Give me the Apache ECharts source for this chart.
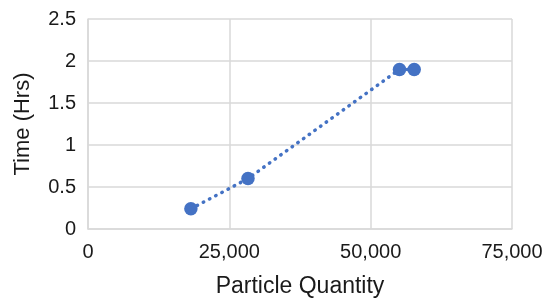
<!DOCTYPE html>
<html>
<head>
<meta charset="utf-8">
<script src="https://cdn.jsdelivr.net/npm/echarts@6/dist/echarts.min.js"></script>
<style>
    html, body { margin: 0; padding: 0; background: #fff; }
    #chart { width: 550px; height: 307px; }
</style>
</head>
<body>
<div id="chart"></div>
<script>
// data
var quantity = [18200, 28300, 55100, 57700]
var hours = [0.24, 0.6, 1.9, 1.9]

var points = []
for (let i = 0; i < quantity.length; i++) {
    points.push([quantity[i], hours[i]])
}

var myChart = echarts.init(document.getElementById('chart'))

var gridColor = '#d9d9d9'
var textColor = '#1a1a1a'
var font = 'Liberation Sans, Arial, sans-serif'

option = {
    animation: false,
    grid: {
        left: 88,
        right: 38,
        top: 19,
        bottom: 78,
        containLabel: false
    },
    xAxis: {
        type: 'value',
        min: 0,
        max: 75000,
        interval: 25000,
        name: 'Particle Quantity',
        nameLocation: 'middle',
        nameGap: 46,
        nameTextStyle: { color: textColor, fontSize: 23, fontFamily: font },
        axisLine: { show: true, lineStyle: { color: gridColor, width: 1.5 } },
        axisTick: { show: false },
        axisLabel: {
            margin: 13,
            color: textColor,
            fontSize: 20,
            fontFamily: font,
            formatter: function (v) { return v.toLocaleString('en-US') }
        },
        splitLine: { show: true, lineStyle: { color: gridColor, width: 1.5 } }
    },
    yAxis: {
        type: 'value',
        min: 0,
        max: 2.5,
        interval: 0.5,
        name: 'Time (Hrs)',
        nameLocation: 'middle',
        nameGap: 54,
        nameTextStyle: { color: textColor, fontSize: 22, fontFamily: font },
        axisLine: { show: true, lineStyle: { color: gridColor, width: 1.5 } },
        axisTick: { show: false },
        axisLabel: {
            margin: 12,
            color: textColor,
            fontSize: 20,
            fontFamily: font
        },
        splitLine: { show: true, lineStyle: { color: gridColor, width: 1.5 } }
    },
    series: [{
        type: 'line',
        data: points,
        symbol: 'circle',
        symbolSize: 13.5,
        itemStyle: { color: '#4472C4' },
        lineStyle: {
            color: '#4472C4',
            width: 3.5,
            type: [0.5, 6.5],
            cap: 'round'
        }
    }]
}

myChart.setOption(option)
</script>
</body>
</html>
